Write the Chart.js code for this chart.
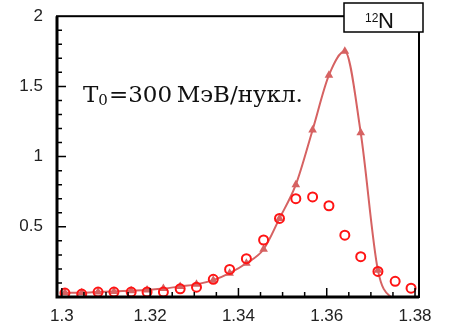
<!DOCTYPE html>
<html lang="ru">
<head>
    <meta charset="UTF-8">
    <title>12N, T0 = 300 МэВ/нукл.</title>
    <script src="https://cdn.jsdelivr.net/npm/chart.js@4.4.8/dist/chart.umd.min.js"></script>
    <style>
        html, body { margin: 0; padding: 0; background: #fff; overflow: hidden; }
        #chart { display: block; }
    </style>
</head>
<body>
<canvas id="chart" width="454" height="322"></canvas>
<script>
    // открытые кружки (данные)
    const circX = [1.3007, 1.3045, 1.3082, 1.3118, 1.3157, 1.3193, 1.3230, 1.3268, 1.3305, 1.3343, 1.3380,
                   1.3418, 1.3457, 1.3493, 1.3530, 1.3568, 1.3605, 1.3641, 1.3677, 1.3716, 1.3755, 1.3791];
    const circY = [0.028, 0.021, 0.035, 0.035, 0.035, 0.035, 0.035, 0.058, 0.07, 0.126, 0.196,
                   0.273, 0.406, 0.56, 0.70, 0.713, 0.65, 0.44, 0.287, 0.182, 0.112, 0.063];
    // треугольники + сглаженная кривая (последняя точка только для линии)
    const triX = [1.3007, 1.3045, 1.3082, 1.3118, 1.3157, 1.3193, 1.3230, 1.3268, 1.3305, 1.3343, 1.3380,
                  1.3418, 1.3457, 1.3493, 1.3530, 1.3568, 1.3605, 1.3641, 1.3677, 1.3716, 1.3755];
    const triY = [0.03, 0.03, 0.035, 0.04, 0.045, 0.05, 0.06, 0.075, 0.09, 0.12, 0.17,
                  0.24, 0.34, 0.56, 0.80, 1.19, 1.58, 1.75, 1.17, 0.19, -0.04];

    const xTicks = [1.30, 1.32, 1.34, 1.36, 1.38];
    const xTickLabels = ['1.3', '1.32', '1.34', '1.36', '1.38'];
    const yTicks = [0.5, 1, 1.5, 2];
    const yTickLabels = ['0.5', '1', '1.5', '2'];

    const lineColor = 'rgb(214, 98, 98)';
    const circColor = 'rgb(255, 20, 20)';

    // рамка, засечки внутрь, подпись и бокс с ядром
    const framePlugin = {
        id: 'frame',
        afterDatasetsDraw(chart) {
            const { ctx, chartArea: a, scales: { x, y } } = chart;
            ctx.save();
            ctx.strokeStyle = '#000';
            ctx.lineWidth = 1.5;
            ctx.beginPath();
            for (let i = 1; i < 20; i++) {
                const py = y.getPixelForValue(i / 10);
                const len = i % 5 === 0 ? 9 : 5;
                ctx.moveTo(a.left, py);
                ctx.lineTo(a.left + len, py);
            }
            for (let i = 0; i <= 16; i++) {
                const px = x.getPixelForValue(1.3 + i * 0.005);
                const len = i % 4 === 0 ? 9 : 5;
                ctx.moveTo(px, a.bottom);
                ctx.lineTo(px, a.bottom - len);
            }
            ctx.stroke();

            ctx.lineWidth = 2;
            ctx.strokeRect(a.left, a.top, a.right - a.left, a.bottom - a.top);
            ctx.lineWidth = 3;
            ctx.beginPath();
            ctx.moveTo(a.left, a.top);
            ctx.lineTo(a.left, a.bottom);
            ctx.lineTo(a.right, a.bottom);
            ctx.stroke();

            // бокс ¹²N
            ctx.fillStyle = '#fff';
            ctx.fillRect(344, 3, 79, 29);
            ctx.lineWidth = 1.5;
            ctx.strokeRect(344, 3, 79, 29);
            ctx.fillStyle = '#111';
            ctx.textBaseline = 'alphabetic';
            ctx.font = '12px "Liberation Sans", Arial, sans-serif';
            ctx.fillText('12', 365, 22);
            ctx.font = '22px "Liberation Sans", Arial, sans-serif';
            ctx.fillText('N', 378, 28);

            // подпись T0 = 300 МэВ/нукл.
            ctx.font = '23px "DejaVu Serif", serif';
            ctx.fillText('T', 83, 102);
            let w = ctx.measureText('T').width;
            ctx.font = '15px "DejaVu Serif", serif';
            ctx.fillText('0', 83 + w, 105);
            w += ctx.measureText('0').width + 1;
            ctx.font = '23px "DejaVu Serif", serif';
            ctx.fillText('=300\u2009МэВ/нукл.', 83 + w, 102);
            ctx.restore();
        }
    };

    const ctx = document.getElementById('chart').getContext('2d');
    new Chart(ctx, {
        type: 'scatter',
        data: {
            datasets: [
                {
                    label: 'треугольники',
                    data: triX.map((v, i) => ({ x: v, y: triY[i] })),
                    showLine: true,
                    cubicInterpolationMode: 'monotone',
                    borderColor: lineColor,
                    borderWidth: 2,
                    backgroundColor: lineColor,
                    pointStyle: 'triangle',
                    pointRadius: c => (c.raw && c.raw.y < 0 ? 0 : 5),
                    pointBorderWidth: 0,
                    clip: 0,
                    order: 2
                },
                {
                    label: 'кружки',
                    data: circX.map((v, i) => ({ x: v, y: circY[i] })),
                    showLine: false,
                    borderColor: circColor,
                    backgroundColor: 'rgba(0,0,0,0)',
                    pointStyle: 'circle',
                    pointRadius: 4.5,
                    pointBorderWidth: 2,
                    order: 1
                }
            ]
        },
        options: {
            responsive: false,
            animation: false,
            devicePixelRatio: 1,
            layout: { padding: { top: 11, right: 35, left: 0, bottom: 0 } },
            plugins: { legend: { display: false }, tooltip: { enabled: false } },
            scales: {
                x: {
                    type: 'linear',
                    min: 1.2989,
                    max: 1.3809,
                    afterBuildTicks: s => { s.ticks = xTicks.map(v => ({ value: v })); },
                    afterFit: s => { s.height = 25; },
                    grid: { display: false },
                    border: { display: false },
                    ticks: {
                        padding: 1,
                        color: '#222',
                        font: { family: '"Liberation Sans", Arial, sans-serif', size: 17 },
                        callback: (v, i) => xTickLabels[i]
                    }
                },
                y: {
                    type: 'linear',
                    min: 0,
                    max: 2,
                    afterBuildTicks: s => { s.ticks = yTicks.map(v => ({ value: v })); },
                    afterFit: s => { s.width = 57; },
                    grid: { display: false },
                    border: { display: false },
                    ticks: {
                        padding: 6,
                        color: '#222',
                        font: { family: '"Liberation Sans", Arial, sans-serif', size: 17 },
                        callback: (v, i) => yTickLabels[i]
                    }
                }
            }
        },
        plugins: [framePlugin]
    });
</script>
</body>
</html>
